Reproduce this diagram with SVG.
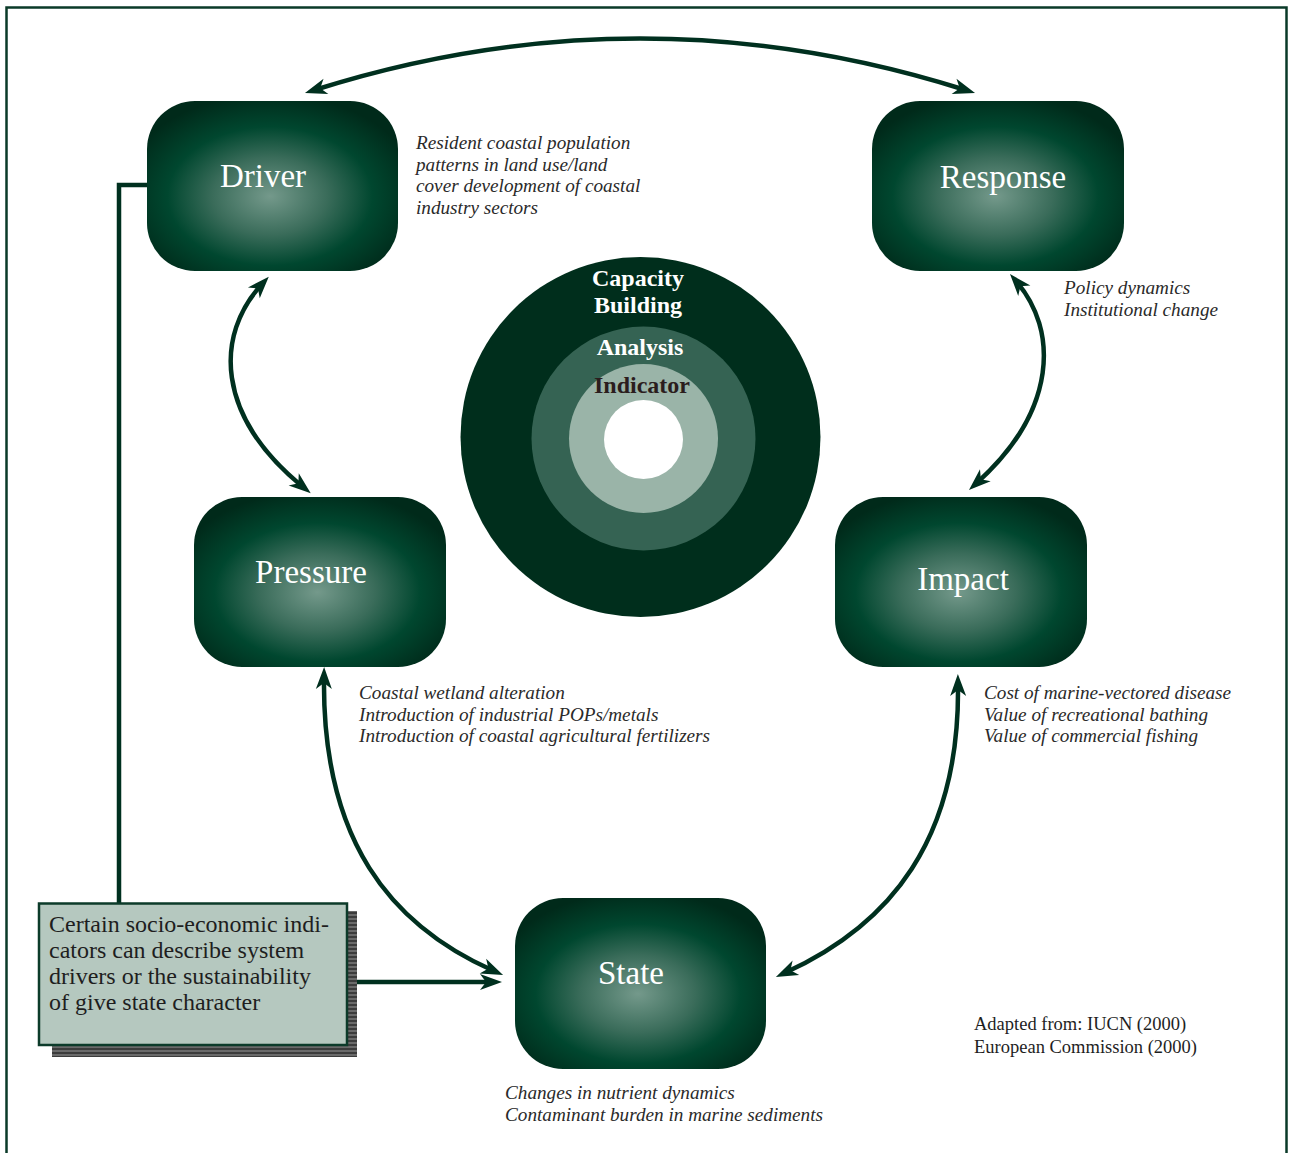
<svg xmlns="http://www.w3.org/2000/svg" width="1289" height="1153" viewBox="0 0 1289 1153">
<style>
.node-label{font-family:"Liberation Serif","Times New Roman",serif;font-size:33px;fill:#ffffff;text-anchor:middle}
.note{font-family:"Liberation Serif","Times New Roman",serif;font-size:19.2px;font-style:italic;fill:#2a2a2a}
.ring{font-family:"Liberation Serif","Times New Roman",serif;font-size:24px;font-weight:bold;text-anchor:middle}
.box-text{font-family:"Liberation Serif","Times New Roman",serif;font-size:24px;fill:#1e1e1e}
.src{font-family:"Liberation Serif","Times New Roman",serif;font-size:18.5px;fill:#1e1e1e}
.conn{fill:none;stroke:#00301f;stroke-width:4.5}
</style>
<defs>
<radialGradient id="nodeGrad" cx="0.49" cy="0.56" r="0.6">
<stop offset="0" stop-color="#74998b"/>
<stop offset="0.38" stop-color="#3a6c5a"/>
<stop offset="0.68" stop-color="#00472f"/>
<stop offset="1" stop-color="#002a1a"/>
</radialGradient>
<pattern id="stripes" width="4" height="4" patternUnits="userSpaceOnUse">
<rect width="4" height="4" fill="#6a6a6a"/>
<rect width="4" height="2" fill="#3c3c3c"/>
</pattern>
<marker id="ah" viewBox="-14 -9 26 18" refX="0" refY="0" markerWidth="26" markerHeight="18" markerUnits="userSpaceOnUse" orient="auto-start-reverse">
<path d="M10,0 L-12,-8 L-6,0 L-12,8 Z" fill="#00301f"/>
</marker>
</defs>
<rect x="0" y="0" width="1289" height="1153" fill="#ffffff"/>
<rect x="6.5" y="7.5" width="1280" height="1170" fill="none" stroke="#0a3a28" stroke-width="2.5"/>

<g id="connectors">
<path class="conn" d="M314.5,90 Q640,-13 965.5,90" marker-start="url(#ah)" marker-end="url(#ah)"/>
<path class="conn" d="M262,284 C215,335 215,415 303,487" marker-start="url(#ah)" marker-end="url(#ah)"/>
<path class="conn" d="M1016.5,281.6 C1058,330 1058,410 976.4,483.3" marker-start="url(#ah)" marker-end="url(#ah)"/>
<path class="conn" d="M324,677 C322,840 390,925 493.9,971" marker-start="url(#ah)" marker-end="url(#ah)"/>
<path class="conn" d="M958,684 C960,840 890,925 785,972.8" marker-start="url(#ah)" marker-end="url(#ah)"/>
<path class="conn" d="M347,982 L492,982" marker-end="url(#ah)"/>
<path class="conn" d="M147,185 L119,185 L119,903"/>
</g>

<g id="driver">
<rect x="147" y="101" width="251" height="170" rx="48" fill="url(#nodeGrad)"/>
<text class="node-label" x="263" y="187">Driver</text>
<text class="note" x="416" y="149">Resident coastal population</text>
<text class="note" x="416" y="170.5">patterns in land use/land</text>
<text class="note" x="416" y="192">cover development of coastal</text>
<text class="note" x="416" y="213.5">industry sectors</text>
</g>

<g id="response">
<rect x="872" y="101" width="252" height="170" rx="48" fill="url(#nodeGrad)"/>
<text class="node-label" x="1003" y="188">Response</text>
<text class="note" x="1064" y="294">Policy dynamics</text>
<text class="note" x="1064" y="315.5">Institutional change</text>
</g>

<g id="pressure">
<rect x="194" y="497" width="252" height="170" rx="48" fill="url(#nodeGrad)"/>
<text class="node-label" x="311" y="583">Pressure</text>
<text class="note" x="359" y="699">Coastal wetland alteration</text>
<text class="note" x="359" y="720.5">Introduction of industrial POPs/metals</text>
<text class="note" x="359" y="742">Introduction of coastal agricultural fertilizers</text>
</g>

<g id="impact">
<rect x="835" y="497" width="252" height="170" rx="48" fill="url(#nodeGrad)"/>
<text class="node-label" x="963" y="590">Impact</text>
<text class="note" x="984" y="699">Cost of marine-vectored disease</text>
<text class="note" x="984" y="720.5">Value of recreational bathing</text>
<text class="note" x="984" y="742">Value of commercial fishing</text>
</g>

<g id="state">
<rect x="515" y="898" width="251" height="171" rx="48" fill="url(#nodeGrad)"/>
<text class="node-label" x="631" y="984">State</text>
<text class="note" x="505" y="1099">Changes in nutrient dynamics</text>
<text class="note" x="505" y="1120.5">Contaminant burden in marine sediments</text>
</g>

<g id="rings">
<circle cx="640.5" cy="437" r="180" fill="#002e1c"/>
<circle cx="643.5" cy="438.5" r="112" fill="#356353"/>
<circle cx="643.5" cy="438.5" r="74.5" fill="#9ab4a8"/>
<circle cx="643.5" cy="439.5" r="39.5" fill="#ffffff"/>
<text class="ring" x="638" y="286" fill="#ffffff">Capacity</text>
<text class="ring" x="638" y="313" fill="#ffffff">Building</text>
<text class="ring" x="640" y="355" fill="#ffffff">Analysis</text>
<text class="ring" x="642" y="393" fill="#2b1d1d">Indicator</text>
</g>

<g id="note-box">
<rect x="52" y="911" width="305" height="146" fill="url(#stripes)"/>
<rect x="39" y="903.5" width="308" height="141.5" fill="#b5c8bf" stroke="#0c3b2a" stroke-width="2.5"/>
<text class="box-text" x="49" y="932">Certain socio-economic indi-</text>
<text class="box-text" x="49" y="958">cators can describe system</text>
<text class="box-text" x="49" y="984">drivers or the sustainability</text>
<text class="box-text" x="49" y="1010">of give state character</text>
</g>

<g id="source">
<text class="src" x="974" y="1030">Adapted from: IUCN (2000)</text>
<text class="src" x="974" y="1053">European Commission (2000)</text>
</g>
</svg>
